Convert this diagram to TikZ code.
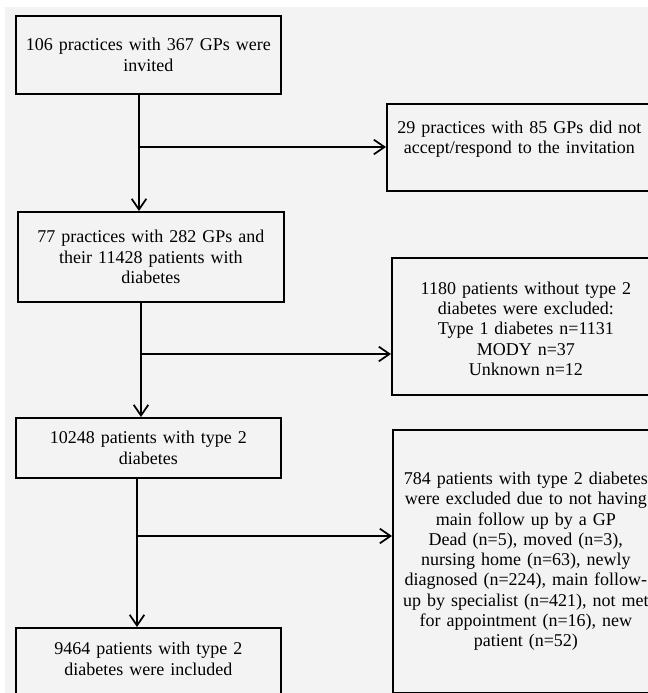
\documentclass[tikz,border=0pt]{standalone}
\usepackage{fontspec}
\setmainfont{Liberation Serif}
\usetikzlibrary{arrows.meta}
\definecolor{panelgray}{HTML}{F3F3F3}

\begin{document}
\begin{tikzpicture}[x=0.75pt,y=0.75pt,yscale=-1,xscale=1,
  flowbox/.style={draw=black, line width=1.3pt, anchor=north west, inner sep=0pt,
    align=center, font=\fontsize{13.5pt}{15.2pt}\selectfont},
  leftbox/.style={flowbox, minimum width=198.75pt, text width=191pt},
  rightbox/.style={flowbox, text width=193.5pt},
  flowline/.style={-{Straight Barb[length=8pt,width=11pt,line width=1.3pt]}, line width=1.3pt, black}]

\useasboundingbox (0, 0) rectangle (648, 693);
\fill [panelgray] (5, 7) rectangle (648, 693);

% left column
\node [leftbox, minimum height=58.5pt] (invited) at (15, 15)
  {106 practices with 367 GPs were\\invited};
\node [leftbox, minimum width=199.5pt, minimum height=67.5pt] (enrolled) at (17, 211)
  {77 practices with 282 GPs and\\their 11428 patients with\\diabetes};
\node [leftbox, minimum height=45pt] (type2) at (15, 417)
  {10248 patients with type 2\\diabetes};
\node [leftbox, minimum height=70pt, text depth=39pt] (included) at (15, 627)
  {9464 patients with type 2\\diabetes were included};

% right column
\node [rightbox, minimum width=198.75pt, minimum height=65.25pt, text depth=30pt] (noreply) at (386, 103)
  {29 practices with 85 GPs did not\\accept/respond to the invitation};
\node [rightbox, minimum width=201pt, minimum height=102.75pt, text height=13pt] (nontype2) at (391, 257)
  {1180 patients without type 2\\diabetes were excluded:\\Type 1 diabetes n=1131\\MODY n=37\\Unknown n=12};
\node [rightbox, minimum width=199.5pt, minimum height=197.25pt] (nogp) at (392, 429)
  {784 patients with type 2 diabetes\\were excluded due to not having\\main follow up by a GP\\Dead (n=5), moved (n=3),\\nursing home (n=63), newly\\diagnosed (n=224), main follow-\\up by specialist (n=421), not met\\for appointment (n=16), new\\patient (n=52)};

% arrows
\coordinate (split1) at (139, 147);
\coordinate (split2) at (141, 354);
\coordinate (split3) at (137, 536);

\draw [flowline] (split1 |- invited.south) -- (split1 |- enrolled.north);
\draw [flowline] (split1) -- (split1 -| noreply.west);
\draw [flowline] (split2 |- enrolled.south) -- (split2 |- type2.north);
\draw [flowline] (split2) -- (split2 -| nontype2.west);
\draw [flowline] (split3 |- type2.south) -- (split3 |- included.north);
\draw [flowline] (split3) -- (split3 -| nogp.west);

\end{tikzpicture}
\end{document}
